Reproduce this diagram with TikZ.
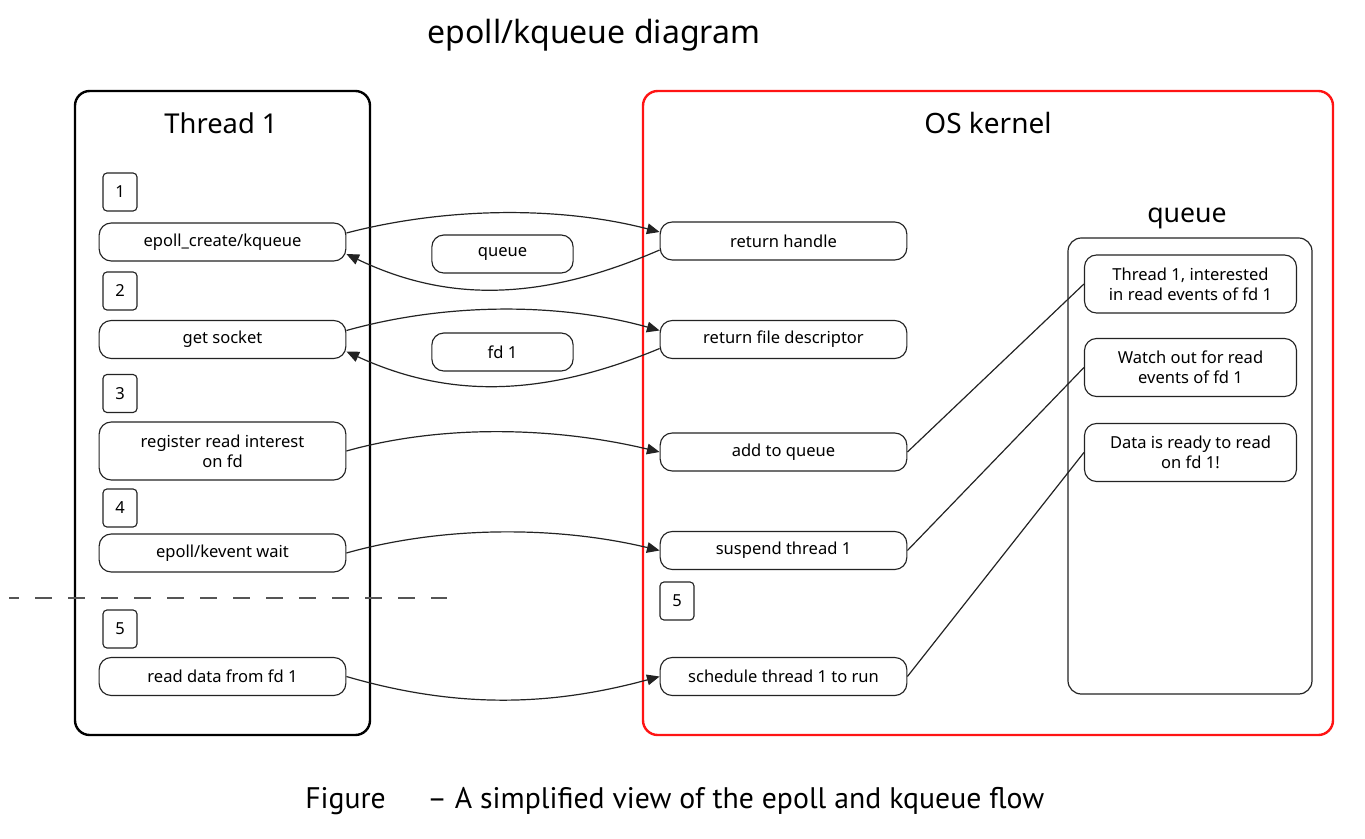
\documentclass[tikz,border=0pt]{standalone}
\usepackage{fontspec}
\setmainfont{Noto Sans}
\newfontfamily\capfont{PT Sans}
\usetikzlibrary{arrows.meta}
\definecolor{kred}{RGB}{255,20,20}
\definecolor{edge}{RGB}{35,35,35}
\tikzset{
  pill/.style={draw=edge, line width=0.85pt, rounded corners=9pt, minimum width=185pt, minimum height=28.5pt, align=center, inner sep=2pt, font=\fontsize{12.4}{15}\selectfont},
  tallpill/.style={pill, minimum height=43.5pt},
  midpill/.style={pill, minimum width=106pt},
  qitem/.style={pill, minimum width=159pt, minimum height=43.5pt},
  numbox/.style={draw=edge, line width=0.85pt, rounded corners=3pt, minimum width=25.5pt, minimum height=28.5pt, inner sep=0pt, font=\fontsize{12.4}{15}\selectfont},
  container/.style={draw, line width=1.8pt, rounded corners=11pt, inner sep=0pt},
  conn/.style={draw=edge, line width=0.9pt},
  arr/.style={conn, -{Triangle[length=9.5pt,width=8pt]}},
  heading/.style={anchor=base, inner sep=0pt, font=\fontsize{20.5}{24}\selectfont},
  captext/.style={anchor=base west, inner sep=0pt, font=\capfont\fontsize{22.3}{26}\selectfont}
}
\begin{document}
\begin{tikzpicture}[x=0.75pt,y=-0.75pt]
\useasboundingbox (0,0) rectangle (1365,839);

% title
\node[heading, font=\fontsize{24}{28}\selectfont] (title) at (594,43) {epoll/kqueue diagram};

% containers
\node[container, black, minimum width=221.25pt, minimum height=483pt] (thread) at (222.5,413) {};
\node[container, kred, minimum width=517.5pt, minimum height=483pt] (kernel) at (988,413) {};
\node[draw=edge, line width=0.9pt, rounded corners=10pt, minimum width=183pt, minimum height=342pt, inner sep=0pt] (qbox) at (1190,466) {};

\node[heading] (tlabel) at (221,133) {Thread 1};
\node[heading, font=\fontsize{21}{24}\selectfont] (klabel) at (988,133) {OS kernel};
\node[heading, font=\fontsize{20}{24}\selectfont] (qlabel) at (1187,222) {queue};

% thread 1 steps
\node[numbox] (n1) at (120,192) {1};
\node[pill] (ep) at (222.5,242) {epoll\_create/kqueue};
\node[numbox] (n2) at (120,291) {2};
\node[pill] (gs) at (222.5,339.5) {get socket};
\node[numbox] (n3) at (120,393.5) {3};
\node[tallpill] (reg) at (222.5,451) {register read interest\\on fd};
\node[numbox] (n4) at (120,508) {4};
\node[pill] (wait) at (222.5,553) {epoll/kevent wait};
\node[numbox] (n5) at (120,629) {5};
\node[pill] (rd) at (222.5,676.5) {read data from fd 1};

% middle
\node[midpill] (mq) at (502.5,254) {queue};
\node[midpill] (mfd) at (502.5,352) {fd 1};

% kernel
\node[pill] (rh) at (783.5,241) {return handle};
\node[pill] (rfd) at (783.5,339.5) {return file descriptor};
\node[pill] (atq) at (783.5,452) {add to queue};
\node[pill] (susp) at (783.5,550.5) {suspend thread 1};
\node[numbox] (k5) at (677,601) {5};
\node[pill] (sched) at (783.5,676.5) {schedule thread 1 to run};

% queue items
\node[qitem] (q1) at (1190.5,284) {Thread 1, interested\\in read events of fd 1};
\node[qitem] (q2) at (1190.5,367.5) {Watch out for read\\events of fd 1};
\node[qitem] (q3) at (1190.5,452.5) {Data is ready to read\\on fd 1!};

% dashed separator
\coordinate (dl) at (9,598);
\coordinate (dr) at (447,598);
\draw[draw={rgb,255:red,85;green,85;blue,85}, line width=1.7pt, dash pattern=on 12.75pt off 12pt, dash phase=5.25pt] (dl) -- (dr);

% arrows
\draw[arr] ([yshift=6.75pt]ep.east) .. controls +(100,-26) and +(-100,-26) .. ([yshift=6.75pt]rh.west);
\draw[arr] ([yshift=-6.75pt]rh.west) .. controls +(-120,52) and +(100,48) .. ([yshift=-9pt]ep.east);
\draw[arr] ([yshift=6.75pt]gs.east) .. controls +(100,-28) and +(-100,-28) .. ([yshift=6.75pt]rfd.west);
\draw[arr] ([yshift=-6.75pt]rfd.west) .. controls +(-120,50) and +(100,46) .. ([yshift=-9pt]gs.east);
\draw[arr] (reg.east) .. controls +(100,-28) and +(-100,-24) .. (atq.west);
\draw[arr] (wait.east) .. controls +(100,-28) and +(-100,-24) .. (susp.west);
\draw[arr] (rd.east) .. controls +(110,32) and +(-110,30) .. (sched.west);

% kernel to queue
\draw[conn] (atq.east) -- (q1.west);
\draw[conn] (susp.east) -- (q2.west);
\draw[conn] (sched.east) -- (q3.west);

% caption
\node[captext] (fig) at (305,808) {Figure};
\node[captext] (cap) at (427,808) {– A simplified view of the epoll and kqueue flow};
\end{tikzpicture}
\end{document}
